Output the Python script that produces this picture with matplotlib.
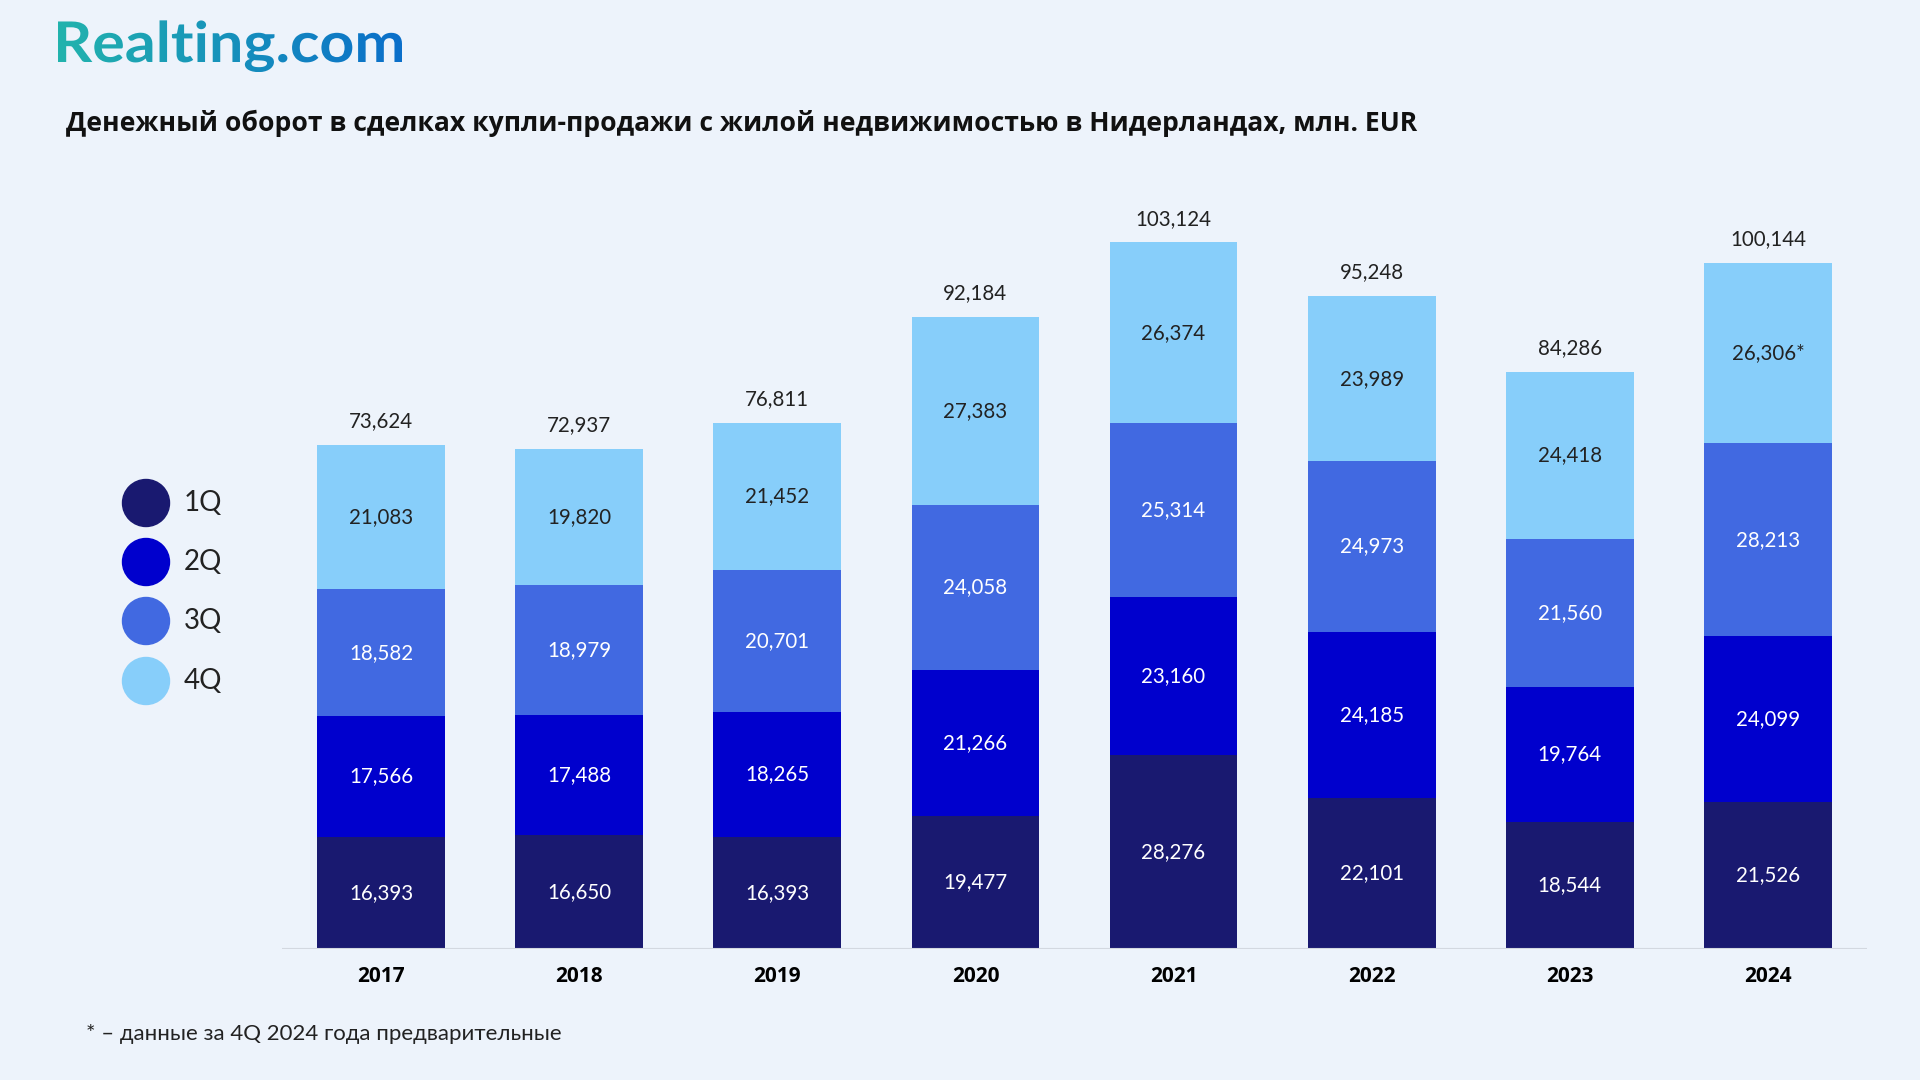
import numpy as np
import matplotlib
matplotlib.use("Agg")
import matplotlib.pyplot as plt
from matplotlib.textpath import TextPath
from matplotlib.font_manager import FontProperties
from matplotlib.patches import PathPatch, Circle
from matplotlib.transforms import Affine2D

# ---------------- data ----------------
years = ["2017", "2018", "2019", "2020", "2021", "2022", "2023", "2024"]
q1 = [16393, 16650, 16393, 19477, 28276, 22101, 18544, 21526]
q2 = [17566, 17488, 18265, 21266, 23160, 24185, 19764, 24099]
q3 = [18582, 18979, 20701, 24058, 25314, 24973, 21560, 28213]
q4 = [21083, 19820, 21452, 27383, 26374, 23989, 24418, 26306]
quarters = ["1Q", "2Q", "3Q", "4Q"]
series = [q1, q2, q3, q4]
colors = ["#191970", "#0000cd", "#4169e1", "#87cefa"]
text_colors = ["white", "white", "white", "#222222"]
# звёздочка у предварительного значения
suffix_4q = ["", "", "", "", "", "", "", "*"]

BG = "#edf3fb"
FONT = "Lato"

fig = plt.figure(figsize=(19.2, 10.8), dpi=100, facecolor=BG)

# ---------------- bars ----------------
ax = fig.add_axes([282 / 1920, 1 - 949 / 1080, (1867 - 282) / 1920, 0.6978])
ax.set_facecolor(BG)
x = np.arange(len(years))
bottom = np.zeros(len(years))
for i, (vals, col) in enumerate(zip(series, colors)):
    vals = np.array(vals)
    ax.bar(x, vals, bottom=bottom, width=0.645, color=col, zorder=2)
    for j in range(len(years)):
        lbl = f"{vals[j]:,}"
        if i == 3:
            lbl += suffix_4q[j]
        ax.text(x[j], bottom[j] + vals[j] / 2, lbl, ha="center", va="center",
                fontsize=14.8, color=text_colors[i], family=FONT)
    bottom += vals

totals = bottom
for j in range(len(years)):
    ax.annotate(f"{int(totals[j]):,}", (x[j], totals[j]), xytext=(0, 10),
                textcoords="offset points", ha="center", va="bottom",
                fontsize=14.8, color="#222222", family=FONT)

ax.set_xlim(-0.5, 7.5)
ax.set_ylim(0, 110000)
ax.axhline(0, color="#d3d8e0", lw=1.5, zorder=3)
for s in ax.spines.values():
    s.set_visible(False)
ax.set_yticks([])
ax.set_xticks(x)
ax.set_xticklabels(years, fontsize=15, fontweight="bold", family="Open Sans")
ax.tick_params(axis="x", length=0, pad=12)

# ---------------- overlay: logo, legend, texts ----------------
ov = fig.add_axes([0, 0, 1, 1], zorder=5)
ov.set_xlim(0, 1920)
ov.set_ylim(0, 1080)
ov.axis("off")
ov.patch.set_alpha(0)

# logo with gradient
fp = FontProperties(family="Lato", weight="bold")
tp = TextPath((0, 0), "Realting.com", prop=fp, size=100)
ext = tp.get_extents()
sc = 344 / ext.width
tr = Affine2D().translate(-ext.x0, 0).scale(sc, sc * 0.92).translate(58, 1080 - 62)
path = tr.transform_path(tp)
patch = PathPatch(path, facecolor="none", edgecolor="none")
ov.add_patch(patch)
pe = path.get_extents()
grad = np.linspace(0, 1, 256).reshape(1, -1)
cmap = matplotlib.colors.LinearSegmentedColormap.from_list("logo", ["#22b3ad", "#0b6fca"])
im = ov.imshow(grad, cmap=cmap, extent=[pe.x0, pe.x1, pe.y0, pe.y1], aspect="auto", zorder=6)
im.set_clip_path(patch)

# title
ov.text(66, 1080 - 123, "Денежный оборот в сделках купли-продажи с жилой недвижимостью в Нидерландах, млн. EUR",
        ha="left", va="center", fontsize=19.1, fontweight="bold", color="#111111", family="Open Sans")

# legend
leg_y = [503, 562, 621, 681]
for q, col, yy in zip(quarters, colors, leg_y):
    ov.add_patch(Circle((146, 1080 - yy), 23.5, color=col))
    ov.text(184, 1080 - yy, q, ha="left", va="center", fontsize=20, color="#222222", family=FONT)

# footnote
ov.text(86, 1080 - 1034, "* – данные за 4Q 2024 года предварительные", ha="left", va="center",
        fontsize=16, color="#222222", family=FONT)

fig.savefig("out.png", dpi=100, facecolor=BG)
